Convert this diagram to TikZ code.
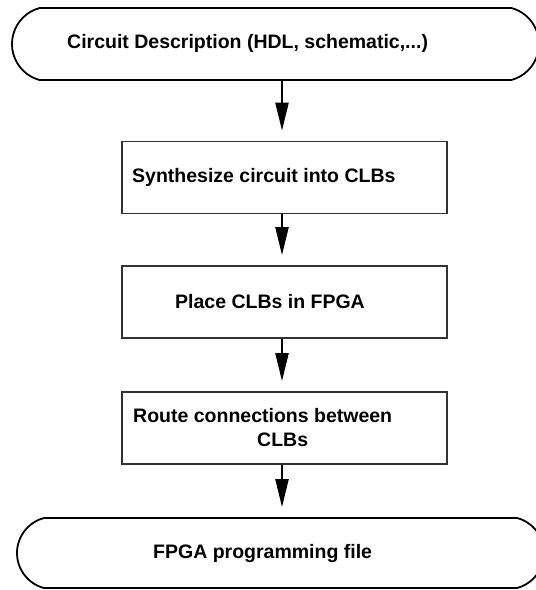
\documentclass[tikz,border=0pt]{standalone}
\usepackage{fontspec}
\setmainfont{Liberation Sans}
\usetikzlibrary{shapes.misc,arrows.meta}
\begin{document}
\begin{tikzpicture}[x=1pt,y=-1pt,
  terminal/.style={draw=black,line width=1.8pt,rounded rectangle,
    rounded rectangle arc length=150,inner sep=0pt},
  stepbox/.style={draw=black!80,line width=1.7pt,rectangle,inner sep=0pt,
    minimum width=325pt,minimum height=72pt},
  label/.style={font=\bfseries\fontsize{19.5}{24}\selectfont,inner sep=0pt,anchor=west},
  flow/.style={line width=2.2pt,-{Triangle[length=28pt,width=13pt]},shorten >=10pt}]
  \useasboundingbox (0,0) rectangle (536,590);
  \clip (0,0) rectangle (536,590);
  \fill[white] (0,0) rectangle (536,590);

  % terminals and process steps
  \node[terminal,minimum width=527pt,minimum height=72pt] (start) at (275.5,44) {};
  \node[stepbox] (synth) at (284.5,177.5) {};
  \node[stepbox] (place) at (284.5,302) {};
  \node[stepbox] (route) at (284.5,428) {};
  \node[terminal,minimum width=527pt,minimum height=70pt] (stop) at (280.5,553) {};

  % texts
  \node[label] (tstart) at (67,43) {Circuit Description (HDL, schematic,...)};
  \node[label] (tsynth) at (132,177) {Synthesize circuit into CLBs};
  \node[label] (tplace) at (175,302) {Place CLBs in FPGA};
  \node[label,align=left] (troute) at (133,428) {Route connections between\\\hspace*{124pt}CLBs};
  \node[label] (tstop) at (153,553) {FPGA programming file};

  % flow arrows
  \draw[flow] (start.south -| 282,0) -- (synth.north -| 282,0);
  \draw[flow] (synth.south -| 282,0) -- (place.north -| 282,0);
  \draw[flow] (place.south -| 282,0) -- (route.north -| 282,0);
  \draw[flow] (route.south -| 282,0) -- (stop.north -| 282,0);
\end{tikzpicture}
\end{document}
